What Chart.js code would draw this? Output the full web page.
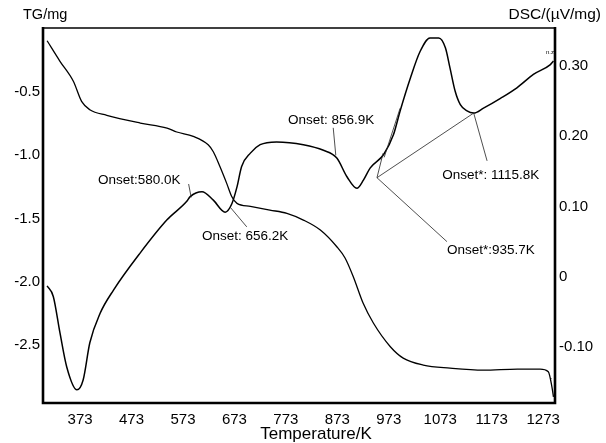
<!DOCTYPE html>
<html><head><meta charset="utf-8">
<script src="https://cdn.jsdelivr.net/npm/chart.js@4.4.1/dist/chart.umd.min.js"></script>
<style>html,body{margin:0;padding:0;background:#fff;}canvas{display:block;}</style>
</head><body>
<canvas id="c" width="606" height="443"></canvas>
<script>
// ---- data ----
const TEMP_TICKS = [373, 473, 573, 673, 773, 873, 973, 1073, 1173, 1273];
const TG_TICKS = [-0.5, -1.0, -1.5, -2.0, -2.5];
const TG_TICK_LABELS = ['-0.5', '-1.0', '-1.5', '-2.0', '-2.5'];
const DSC_TICKS = [0.30, 0.20, 0.10, 0, -0.10];
const DSC_TICK_LABELS = ['0.30', '0.20', '0.10', '0', '-0.10'];

const TG_TEMP = [309, 334, 360, 376, 392, 425, 490, 542, 561, 593, 622, 632, 645, 658, 668, 678, 704, 742, 775, 807, 840, 872, 888, 904, 923, 943, 976, 1001, 1040, 1092, 1157, 1223, 1267, 1283, 1290, 1293];
const TG_MASS = [-0.095, -0.257, -0.415, -0.574, -0.640, -0.684, -0.745, -0.785, -0.816, -0.850, -0.917, -0.972, -1.091, -1.222, -1.328, -1.380, -1.404, -1.433, -1.459, -1.512, -1.591, -1.723, -1.812, -1.960, -2.168, -2.326, -2.513, -2.603, -2.658, -2.682, -2.698, -2.690, -2.690, -2.711, -2.830, -2.909];

const DSC_TEMP = [309, 321, 334, 347, 367, 379, 392, 412, 438, 490, 542, 580, 587, 610, 632, 655, 668, 678, 687, 704, 723, 755, 807, 846, 872, 892, 911, 924, 937, 963, 982, 995, 1015, 1034, 1053, 1070, 1083, 1092, 1102, 1112, 1125, 1138, 1157, 1190, 1222, 1254, 1287, 1293];
const DSC_VALUE = [-0.013, -0.028, -0.080, -0.128, -0.161, -0.147, -0.094, -0.052, -0.019, 0.034, 0.081, 0.107, 0.114, 0.121, 0.109, 0.092, 0.104, 0.128, 0.157, 0.176, 0.188, 0.192, 0.188, 0.180, 0.169, 0.142, 0.126, 0.138, 0.155, 0.174, 0.202, 0.236, 0.283, 0.321, 0.340, 0.340, 0.326, 0.297, 0.264, 0.245, 0.236, 0.233, 0.240, 0.254, 0.269, 0.288, 0.302, 0.307];

// onset annotations (placed in temperature / DSC units)
const ONSET_TEXT = ['Onset:580.0K', 'Onset: 656.2K', 'Onset: 856.9K', 'Onset*: 1115.8K', 'Onset*:935.7K'];
const ONSET_TEXT_T = [408, 610, 777, 1077, 1086];
const ONSET_TEXT_DSC = [0.138, 0.057, 0.223, 0.145, 0.038];
// leader / tangent lines: [T1, DSC1, T2, DSC2]
const LEADER_LINES = [
  [589, 0.113, 584, 0.132],
  [666, 0.098, 697, 0.071],
  [865, 0.212, 870, 0.173],
  [1138, 0.233, 1164, 0.165],
  [950, 0.141, 1086, 0.050],
  [950, 0.141, 1138, 0.233],
  [950, 0.141, 962, 0.176],
  [964, 0.170, 995, 0.240]
];

const FONT = "'Liberation Sans', Arial, Helvetica, sans-serif";

const decor = {
  id: 'decor',
  afterDatasetsDraw(chart) {
    const ctx = chart.ctx, a = chart.chartArea;
    const sx = chart.scales.x, sy = chart.scales.y1;
    ctx.save();
    // leader lines
    ctx.strokeStyle = '#222'; ctx.lineWidth = 0.8;
    LEADER_LINES.forEach(l => {
      ctx.beginPath();
      ctx.moveTo(sx.getPixelForValue(l[0]), sy.getPixelForValue(l[1]));
      ctx.lineTo(sx.getPixelForValue(l[2]), sy.getPixelForValue(l[3]));
      ctx.stroke();
    });
    // onset labels
    ctx.fillStyle = '#000';
    ctx.font = '13.5px ' + FONT;
    ctx.textAlign = 'left'; ctx.textBaseline = 'middle';
    ONSET_TEXT.forEach((t, i) => {
      ctx.fillText(t, sx.getPixelForValue(ONSET_TEXT_T[i]), sy.getPixelForValue(ONSET_TEXT_DSC[i]));
    });
    // tiny curve tags
    ctx.font = '6px ' + FONT;
    ctx.fillText('n.z', a.right - 9, a.top + 24);
    ctx.fillText('r', a.right - 5, a.bottom - 24);
    // frame
    ctx.strokeStyle = '#000';
    ctx.lineWidth = 1.6;
    ctx.beginPath(); ctx.moveTo(a.left, a.top); ctx.lineTo(a.right, a.top); ctx.stroke();
    ctx.lineWidth = 2.6;
    ctx.beginPath();
    ctx.moveTo(a.left, a.top - 1); ctx.lineTo(a.left, a.bottom); ctx.lineTo(a.right, a.bottom); ctx.lineTo(a.right, a.top - 1);
    ctx.stroke();
    // axis titles
    ctx.font = '14.5px ' + FONT;
    ctx.textBaseline = 'middle';
    ctx.textAlign = 'left';
    ctx.fillText('TG/mg', 23, 15);
    ctx.textAlign = 'right';
    ctx.font = '15.5px ' + FONT;
    ctx.fillText('DSC/(\u00b5V/mg)', 601, 15);
    ctx.textAlign = 'center';
    ctx.font = '17px ' + FONT;
    ctx.fillText('Temperature/K', 316, 434);
    ctx.restore();
  }
};

const toXY = (xs, ys) => xs.map((x, i) => ({ x: x, y: ys[i] }));

new Chart(document.getElementById('c'), {
  type: 'scatter',
  data: {
    datasets: [
      { label: 'TG', data: toXY(TG_TEMP, TG_MASS), yAxisID: 'y', showLine: true,
        borderColor: '#000', borderWidth: 1.3, pointRadius: 0, cubicInterpolationMode: 'monotone' },
      { label: 'DSC', data: toXY(DSC_TEMP, DSC_VALUE), yAxisID: 'y1', showLine: true,
        borderColor: '#000', borderWidth: 1.5, pointRadius: 0, cubicInterpolationMode: 'monotone' }
    ]
  },
  options: {
    responsive: false, animation: false, devicePixelRatio: 1,
    layout: { padding: { top: 28, left: 0, right: 0, bottom: 0 } },
    plugins: { legend: { display: false }, tooltip: { enabled: false } },
    scales: {
      x: {
        type: 'linear', min: 301, max: 1296,
        afterBuildTicks: s => { s.ticks = TEMP_TICKS.map(v => ({ value: v })); },
        afterFit: s => { s.height = 40; },
        grid: { display: false, drawTicks: false }, border: { display: false },
        ticks: { color: '#000', font: { family: FONT, size: 15 }, padding: 8, maxRotation: 0, autoSkip: false,
                 callback: v => String(v) }
      },
      y: {
        position: 'left', min: -2.958, max: 0.006,
        afterBuildTicks: s => { s.ticks = TG_TICKS.map(v => ({ value: v })); },
        afterFit: s => { s.width = 43; },
        grid: { display: false, drawTicks: false }, border: { display: false },
        ticks: { color: '#000', font: { family: FONT, size: 15 }, padding: 3, autoSkip: false,
                 callback: v => { const i = TG_TICKS.indexOf(v); return i >= 0 ? TG_TICK_LABELS[i] : ''; } }
      },
      y1: {
        position: 'right', min: -0.1797, max: 0.3541,
        afterBuildTicks: s => { s.ticks = DSC_TICKS.map(v => ({ value: v })); },
        afterFit: s => { s.width = 51; },
        grid: { display: false, drawTicks: false }, border: { display: false },
        ticks: { color: '#000', font: { family: FONT, size: 15 }, padding: 4, autoSkip: false,
                 callback: v => { const i = DSC_TICKS.indexOf(v); return i >= 0 ? DSC_TICK_LABELS[i] : ''; } }
      }
    }
  },
  plugins: [decor]
});
</script>
</body></html>
